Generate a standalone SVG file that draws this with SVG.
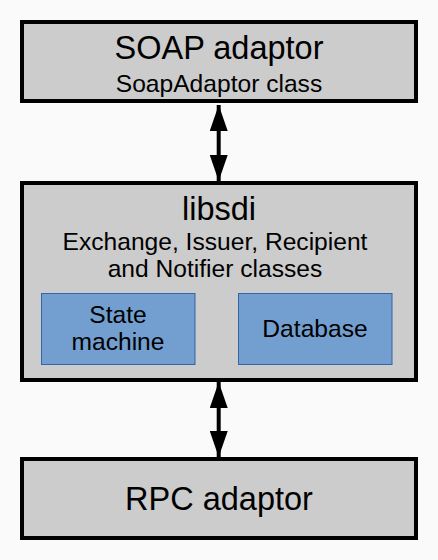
<svg xmlns="http://www.w3.org/2000/svg" width="438" height="560" viewBox="0 0 438 560">
<style>
.box{fill:#cccccc;stroke:#000;stroke-width:4}
.inner{fill:#729fcf;stroke:#3465a4;stroke-width:1}
text{font-family:"Liberation Sans",Arial,sans-serif;fill:#000;text-anchor:middle}
.t{font-size:32.5px}
.s{font-size:24.6px}
.conn{stroke:#000;stroke-width:4;fill:none;marker-start:url(#ah);marker-end:url(#ah)}
</style>
<defs>
<marker id="ah" markerUnits="userSpaceOnUse" viewBox="0 0 26 18" refX="26" refY="9" markerWidth="26" markerHeight="18" orient="auto-start-reverse">
<path d="M0,0 L26,9 L0,18 Z" fill="#000"/>
</marker>
</defs>
<rect width="438" height="560" fill="#fafafa"/>
<g id="connectors">
<line class="conn" x1="218.7" y1="105" x2="218.7" y2="181"/>
<line class="conn" x1="218.7" y1="382" x2="218.7" y2="457"/>
</g>
<g id="soap">
<rect class="box" x="22" y="22" width="394" height="79"/>
<text class="t" x="219" y="59">SOAP adaptor</text>
<text class="s" x="219" y="92">SoapAdaptor class</text>
</g>
<g id="libsdi">
<rect class="box" x="22" y="183" width="394" height="197"/>
<text class="t" x="219" y="220">libsdi</text>
<text class="s" x="215" y="250">Exchange, Issuer, Recipient</text>
<text class="s" x="215" y="277">and Notifier classes</text>
</g>
<g id="state-machine">
<rect class="inner" x="41.5" y="293.5" width="153.5" height="71"/>
<text class="s" x="118" y="323">State</text>
<text class="s" x="118" y="350">machine</text>
</g>
<g id="database">
<rect class="inner" x="238.5" y="293.5" width="153.5" height="71"/>
<text class="s" x="315" y="337">Database</text>
</g>
<g id="rpc">
<rect class="box" x="22" y="459" width="394" height="79"/>
<text class="t" x="219" y="510">RPC adaptor</text>
</g>
</svg>
